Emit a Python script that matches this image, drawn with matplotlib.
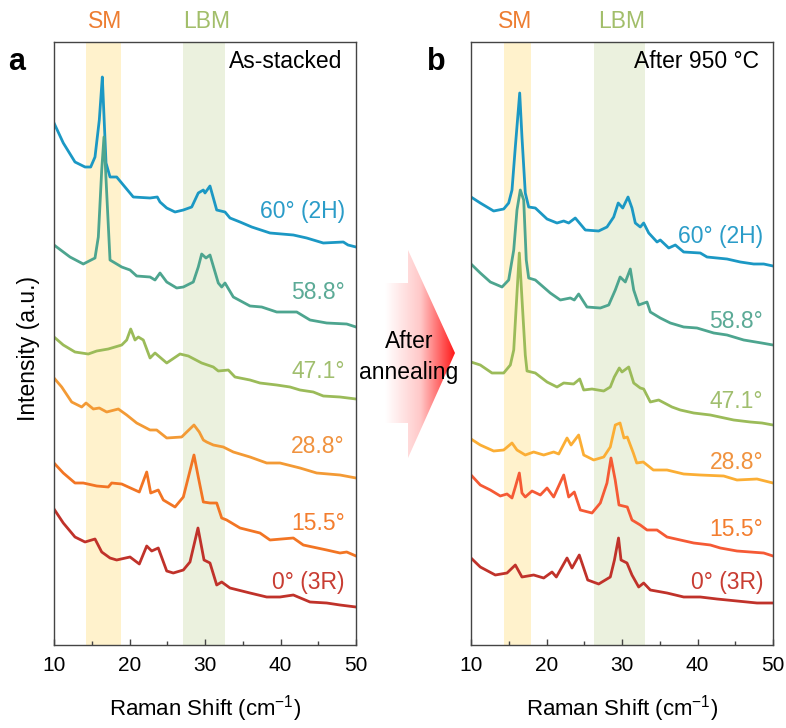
import numpy as np
import matplotlib
matplotlib.use("Agg")
import matplotlib.pyplot as plt
import matplotlib.transforms as mtransforms
from matplotlib.patches import Polygon
from matplotlib.colors import LinearSegmentedColormap
from matplotlib.ticker import MultipleLocator

plt.rcParams['font.family'] = ['Liberation Sans', 'DejaVu Sans']
plt.rcParams['mathtext.fontset'] = 'custom'
plt.rcParams['mathtext.rm'] = 'Liberation Sans'
plt.rcParams['mathtext.it'] = 'Liberation Sans:italic'

# ---- (a) as-stacked spectra, stacked intensities (a.u.) ----
a_2h_x = [10.0, 11.23, 12.78, 14.11, 14.86, 15.43, 16.0, 16.4, 16.53, 16.89, 17.42, 18.3, 20.5, 22.72, 23.68,
          24.04, 24.93, 26.03, 27.13, 28.24, 29.11, 29.78, 30.0, 30.66, 31.55, 32.65, 33.31, 34.64, 36.19, 38.61,
          41.7, 43.47, 45.67, 48.32, 48.94, 50.0]
a_2h_y = [522, 502, 483, 478, 478, 488, 525, 568, 545, 482, 468, 468, 448, 447, 448,
          443, 437, 433, 435, 438, 452, 455, 452, 459, 435, 433, 427, 423, 418, 412,
          410, 407, 402, 403, 400, 398]

a_588_x = [10.0, 12.12, 13.88, 15.43, 15.87, 16.32, 16.62, 16.98, 17.42, 18.97, 20.07, 20.95, 22.72, 23.38, 24.04,
           24.93, 26.25, 27.13, 28.45, 29.11, 29.56, 30.13, 30.66, 31.76, 32.21, 32.65, 33.75, 35.96, 37.51, 39.5,
           42.15, 43.91, 46.12, 48.77, 50.0]
a_588_y = [400, 388, 381, 387, 408, 475, 508, 452, 385, 378, 375, 369, 368, 365, 372,
           363, 357, 358, 363, 378, 391, 387, 390, 362, 358, 362, 348, 339, 338, 333,
           333, 325, 322, 321, 318]

a_471_x = [10.0, 11.23, 12.78, 14.54, 15.66, 17.19, 18.97, 19.63, 20.16, 20.73, 21.17, 21.83, 22.72, 23.38, 24.93,
           26.69, 27.79, 29.56, 31.1, 31.76, 33.09, 33.97, 35.96, 37.28, 39.5, 41.26, 42.58, 44.34, 45.67, 47.88,
           50.0]
a_471_y = [308, 300, 293, 291, 294, 296, 300, 305, 316, 305, 308, 305, 287, 292, 282,
           291, 289, 282, 278, 274, 275, 268, 265, 262, 260, 258, 255, 253, 249, 248,
           246]

a_288_x = [10.0, 11.02, 12.34, 13.67, 14.24, 15.21, 16.0, 16.98, 18.52, 19.63, 20.95, 22.72, 23.6, 24.93, 26.91,
           27.58, 28.54, 29.24, 29.78, 30.22, 31.1, 32.42, 33.75, 35.96, 38.17, 39.93, 42.58, 44.79, 47.88, 50.0]
a_288_y = [267, 258, 243, 238, 242, 236, 237, 233, 236, 230, 222, 215, 215, 207, 208,
           213, 220, 213, 205, 203, 200, 198, 193, 188, 182, 182, 177, 172, 170, 167]

a_155_x = [10.0, 11.23, 12.78, 13.88, 15.66, 17.19, 17.64, 18.97, 19.84, 21.3, 22.28, 22.81, 23.81, 24.48, 26.03,
           27.13, 28.54, 29.11, 29.78, 30.66, 31.55, 32.21, 32.87, 34.64, 37.28, 38.61, 41.7, 43.02, 46.12, 47.88,
           48.77, 50.0]
a_155_y = [182, 172, 162, 162, 159, 158, 162, 161, 158, 153, 173, 152, 155, 145, 138,
           148, 190, 168, 143, 142, 142, 127, 125, 117, 112, 105, 107, 100, 95, 92,
           93, 89]

a_3r_x = [10.0, 11.23, 12.78, 14.11, 15.43, 16.32, 17.42, 18.3, 20.07, 21.3, 22.28, 22.94, 23.81, 24.93, 25.8,
          27.13, 28.01, 29.07, 29.87, 30.66, 31.55, 32.21, 33.31, 35.96, 38.17, 39.93, 41.7, 43.91, 46.12, 47.88,
          50.0]
a_3r_y = [136, 122, 108, 103, 106, 93, 87, 85, 88, 81, 99, 94, 97, 74, 72,
          75, 83, 117, 85, 82, 60, 63, 57, 52, 48, 48, 50, 43, 42, 40,
          38]

# ---- (b) after 950 C anneal ----
b_2h_x = [10.0, 11.23, 13.0, 14.33, 14.99, 15.43, 15.87, 16.45, 16.75, 17.19, 17.64, 18.52, 20.07, 21.39, 22.28,
          22.94, 23.81, 25.14, 26.91, 28.01, 28.9, 29.5, 30.1, 30.8, 31.32, 31.76, 32.42, 32.87, 33.54, 34.64,
          35.07, 36.19, 37.06, 38.17, 40.37, 41.26, 43.91, 45.67, 47.44, 48.77, 50.0]
b_2h_y = [448, 442, 434, 436, 442, 455, 498, 552, 508, 452, 438, 437, 426, 422, 424,
          422, 427, 415, 414, 418, 428, 442, 437, 448, 437, 422, 418, 422, 412, 403,
          405, 397, 400, 393, 392, 388, 386, 383, 381, 381, 379]

b_588_x = [10.0, 11.23, 12.56, 14.11, 14.99, 15.66, 16.09, 16.53, 16.98, 17.32, 17.64, 18.52, 20.5, 21.83, 23.15,
           23.68, 24.26, 25.36, 27.13, 28.24, 29.11, 29.75, 30.44, 31.1, 31.55, 32.21, 33.31, 33.75, 35.07, 36.4,
           38.17, 39.93, 42.15, 43.91, 46.12, 48.5, 50.0]
b_588_y = [381, 372, 363, 358, 365, 395, 435, 455, 445, 385, 367, 365, 352, 345, 347,
           345, 351, 338, 337, 340, 355, 368, 363, 376, 355, 340, 343, 333, 327, 322,
           318, 317, 312, 310, 305, 302, 300]

b_471_x = [10.0, 11.23, 12.78, 14.33, 15.21, 15.66, 16.0, 16.4, 16.8, 17.19, 17.42, 18.52, 20.07, 21.39, 22.28,
           23.6, 24.4, 24.93, 26.03, 27.58, 28.45, 28.98, 29.64, 30.0, 30.89, 31.55, 32.42, 32.87, 33.75, 34.86,
           36.62, 37.72, 39.5, 41.7, 44.79, 46.99, 48.54, 50.0]
b_471_y = [283, 280, 272, 272, 280, 295, 340, 392, 340, 290, 274, 272, 263, 258, 262,
           261, 266, 255, 256, 254, 258, 268, 277, 273, 278, 262, 257, 256, 243, 245,
           238, 235, 232, 230, 225, 223, 222, 220]

b_288_x = [10.0, 11.23, 13.0, 14.33, 15.43, 16.09, 17.19, 18.3, 19.63, 20.95, 21.62, 22.72, 23.25, 24.26, 24.93,
           26.25, 27.58, 28.45, 29.11, 29.74, 30.26, 30.7, 31.5, 31.95, 32.82, 34.15, 35.96, 38.17, 40.37, 43.47,
           45.23, 47.88, 50.0]
b_288_y = [206, 200, 194, 195, 202, 195, 190, 193, 190, 193, 191, 207, 200, 210, 190,
           185, 188, 198, 220, 222, 207, 208, 192, 182, 183, 175, 175, 171, 170, 169,
           165, 166, 162]

b_155_x = [10.0, 11.23, 12.56, 13.88, 14.77, 15.43, 15.87, 16.4, 16.75, 17.19, 18.08, 19.18, 20.07, 20.95, 22.28,
           22.94, 23.68, 24.48, 26.03, 27.13, 28.01, 28.54, 29.1, 29.6, 30.7, 31.32, 32.42, 33.31, 34.64, 35.96,
           37.72, 39.5, 41.7, 43.02, 45.23, 46.99, 48.77, 50.0]
b_155_y = [170, 160, 155, 149, 151, 147, 158, 172, 152, 148, 154, 150, 157, 148, 170,
           148, 153, 135, 132, 142, 162, 187, 165, 140, 138, 125, 120, 115, 115, 108,
           105, 102, 100, 97, 94, 93, 92, 89]

b_3r_x = [10.0, 11.23, 13.22, 14.77, 15.87, 16.75, 18.3, 19.63, 20.73, 21.3, 22.72, 23.38, 24.34, 25.46, 26.91,
          28.45, 29.0, 29.54, 29.87, 30.66, 31.32, 32.21, 32.87, 33.75, 35.96, 38.17, 40.37, 42.58, 45.23, 47.88,
          50.0]
b_3r_y = [87, 78, 70, 72, 80, 68, 70, 67, 73, 68, 87, 77, 90, 65, 61,
          68, 85, 107, 85, 82, 70, 58, 62, 55, 52, 48, 48, 46, 44, 42,
          42]

angle_labels = ["60° (2H)", "58.8°", "47.1°", "28.8°", "15.5°", "0° (3R)"]
label_colors = ["#2A9CC8", "#5BAA96", "#A0BE6E", "#F0923E", "#F37D2E", "#C83C32"]
a_colors = ["#1B98C4", "#4DA58F", "#9BBB59", "#F39A35", "#F27524", "#C0322A"]
b_colors = ["#1B98C4", "#4DA58F", "#9BBB59", "#FBAE35", "#F55A35", "#C0322A"]
a_label_y = [433, 352, 273, 198, 122, 62]
b_label_y = [408, 323, 243, 182, 115, 63]

sm_band_a, lbm_band_a = (14.2, 18.9), (27.1, 32.6)
sm_band_b, lbm_band_b = (14.4, 18.0), (26.3, 33.1)

W, H = 786, 728
fig = plt.figure(figsize=(W / 100, H / 100), dpi=100)

ax_a = fig.add_axes([54 / W, 1 - 645 / H, 302 / W, 603 / H])
ax_b = fig.add_axes([471 / W, 1 - 645 / H, 302 / W, 603 / H])

panels = [
    (ax_a, [(a_2h_x, a_2h_y), (a_588_x, a_588_y), (a_471_x, a_471_y),
            (a_288_x, a_288_y), (a_155_x, a_155_y), (a_3r_x, a_3r_y)],
     a_colors, a_label_y, sm_band_a, lbm_band_a, "As-stacked", 48.54, (16.8, 30.2)),
    (ax_b, [(b_2h_x, b_2h_y), (b_588_x, b_588_y), (b_471_x, b_471_y),
            (b_288_x, b_288_y), (b_155_x, b_155_y), (b_3r_x, b_3r_y)],
     b_colors, b_label_y, sm_band_b, lbm_band_b, "After 950 °C", 48.68, (15.8, 29.9)),
]

for ax, spectra, colors, lab_y, sm, lbm, title, lab_x, band_text_x in panels:
    ax.axvspan(*sm, color="#FFF2CC", lw=0, zorder=0)
    ax.axvspan(*lbm, color="#EBF1DE", lw=0, zorder=0)
    for (xs, ys), c in zip(spectra, colors):
        ax.plot(xs, ys, color=c, lw=2.0, solid_joinstyle="round", zorder=2)
    for txt, c, y in zip(angle_labels, label_colors, lab_y):
        ax.text(lab_x, y, txt, color=c, fontsize=16.5, ha="right", va="center")

    ax.set_xlim(10, 50)
    ax.set_ylim(0, 603)
    ax.set_yticks([])
    ax.xaxis.set_major_locator(MultipleLocator(10))
    ax.xaxis.set_minor_locator(MultipleLocator(5))
    ax.tick_params(axis="x", which="major", direction="in", length=4, width=1,
                   color="#444444", labelsize=15, pad=8)
    ax.tick_params(axis="x", which="minor", direction="in", length=3, width=1, color="#444444")
    for sp in ax.spines.values():
        sp.set_color("#444444")
        sp.set_linewidth(1.0)
    ax.set_xlabel(r"Raman Shift (cm$^{-1}$)", fontsize=16, labelpad=13)

    ax.text(0.955, 0.967, title, transform=ax.transAxes, fontsize=16.5, ha="right", va="center")
    trans = mtransforms.blended_transform_factory(ax.transData, ax.transAxes)
    ax.text(band_text_x[0], 1.034, "SM", transform=trans, color="#ED7D31", fontsize=16.5,
            ha="center", va="center", clip_on=False)
    ax.text(band_text_x[1], 1.034, "LBM", transform=trans, color="#A2BE6A", fontsize=16.5,
            ha="center", va="center", clip_on=False)

fig.text(29 / W, 1 - 348 / H, "Intensity (a.u.)", rotation=90, fontsize=16.5, ha="center", va="center")
fig.text(17 / W, 1 - 62 / H, "a", fontsize=22, fontweight="bold", ha="center", va="center")
fig.text(436 / W, 1 - 62 / H, "b", fontsize=22, fontweight="bold", ha="center", va="center")

# gradient block arrow between the panels
ov = fig.add_axes([0, 0, 1, 1], zorder=-1)
ov.set_xlim(0, W)
ov.set_ylim(H, 0)
ov.axis("off")
arrow = Polygon([(350, 283), (408, 283), (408, 250), (455, 353), (408, 458), (408, 423), (350, 423)],
                closed=True, facecolor="none", edgecolor="none")
ov.add_patch(arrow)
grad_cmap = LinearSegmentedColormap.from_list("fade", ["#FFFFFF", "#FFFFFF", "#FFC8C8", "#FF1414"])
grad = np.tile(np.linspace(0, 1, 256), (2, 1))
im = ov.imshow(grad, cmap=grad_cmap, extent=(350, 456, 458, 250), aspect="auto", interpolation="bilinear")
im.set_clip_path(arrow)
fig.text(409 / W, 1 - 342 / H, "After", fontsize=16.5, ha="center", va="center")
fig.text(409 / W, 1 - 372 / H, "annealing", fontsize=16.5, ha="center", va="center")

fig.savefig("out.png", dpi=100)
